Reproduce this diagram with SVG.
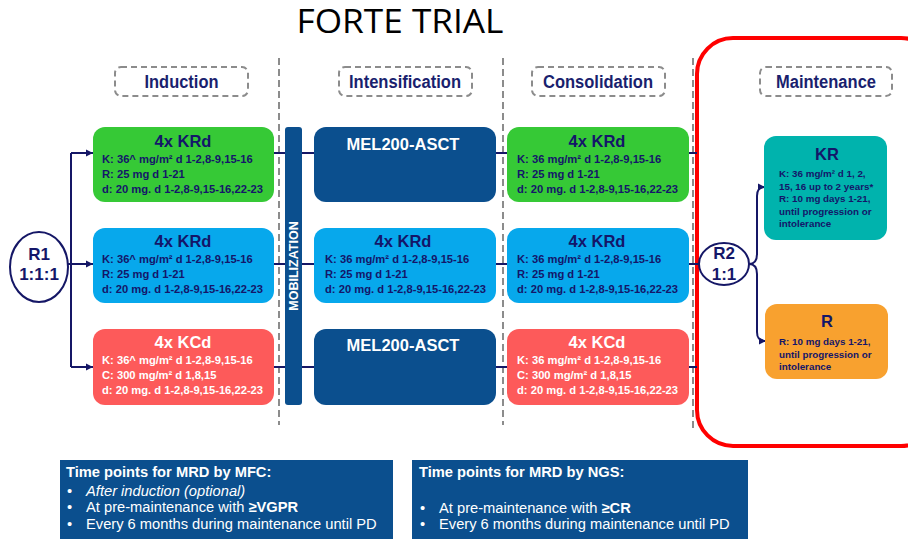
<svg xmlns="http://www.w3.org/2000/svg" width="908" height="539" viewBox="0 0 908 539">
<style>
text{font-family:"Liberation Sans",Arial,sans-serif}
.title{font-family:"Open Sans","Noto Sans",sans-serif;font-size:32px;fill:#000}
.phase{fill:none;stroke:#8c8c8c;stroke-width:2;stroke-dasharray:6 4}
.phaset{font-weight:bold;font-size:17.5px;fill:#1a1f6e;text-anchor:middle}
.div{stroke:#8c8c8c;stroke-width:2;stroke-dasharray:7 4;fill:none}
.con{stroke:#151766;stroke-width:2;fill:none}
.g{fill:#36c936}.b{fill:#07a8ec}.r{fill:#fd5a5a}.d{fill:#0b4f8e}.t{fill:#00b3ad}.o{fill:#f8a12f}
.h{font-weight:bold;font-size:16.5px;text-anchor:middle;fill:#141669}
.hw{font-weight:bold;font-size:16.5px;text-anchor:middle;fill:#fff}
.l{font-weight:bold;font-size:11.2px;fill:#141669}
.lw{font-weight:bold;font-size:11.2px;fill:#fff}
.m{font-weight:bold;font-size:9.8px;fill:#141669}
.rc{fill:#fff;stroke:#151766;stroke-width:2}
.rt{font-weight:bold;font-size:17px;text-anchor:middle;fill:#141669}
.bt{font-size:14.7px;fill:#fff}
</style>
<defs>
<marker id="arr" markerUnits="userSpaceOnUse" markerWidth="8" markerHeight="8" refX="7" refY="4" orient="auto">
<path d="M0,0.5 L7,4 L0,7.5 z" fill="#151766"/>
</marker>
</defs>

<text class="title" x="400" y="33" text-anchor="middle" textLength="207" lengthAdjust="spacingAndGlyphs">FORTE TRIAL</text>

<g id="phases">
<rect class="phase" x="115" y="67" width="133" height="29" rx="6"/>
<text class="phaset" x="181.5" y="88" textLength="74" lengthAdjust="spacingAndGlyphs">Induction</text>
<rect class="phase" x="339" y="67" width="133" height="29" rx="6"/>
<text class="phaset" x="405" y="88" textLength="112" lengthAdjust="spacingAndGlyphs">Intensification</text>
<rect class="phase" x="532" y="67" width="133" height="29" rx="6"/>
<text class="phaset" x="598" y="88" textLength="110" lengthAdjust="spacingAndGlyphs">Consolidation</text>
<rect class="phase" x="760" y="67" width="132" height="29" rx="6"/>
<text class="phaset" x="826" y="88" textLength="100" lengthAdjust="spacingAndGlyphs">Maintenance</text>
</g>

<g id="dividers">
<line class="div" x1="279" y1="58" x2="279" y2="425"/>
<line class="div" x1="503" y1="58" x2="503" y2="425"/>
<line class="div" x1="693" y1="58" x2="693" y2="428"/>
</g>

<rect id="maintenance-frame" x="697" y="38" width="240" height="408" rx="36" fill="none" stroke="#ff0000" stroke-width="4"/>

<g id="connectors">
<path class="con" d="M68,264 H71 M71,153 V367"/>
<path class="con" d="M71,153 H93" marker-end="url(#arr)"/>
<path class="con" d="M71,264 H93" marker-end="url(#arr)"/>
<path class="con" d="M71,367 H93" marker-end="url(#arr)"/>
<path class="con" d="M274,153 H697"/>
<path class="con" d="M274,264 H699"/>
<path class="con" d="M274,367 H697"/>
<path class="con" d="M749,264 C755,264 757,260 757,254 L757,196 C757,190 759,187 765,187" marker-end="url(#arr)"/>
<path class="con" d="M749,264 C755,264 757,268 757,274 L757,332 C757,338 759,341 766,341" marker-end="url(#arr)"/>
</g>

<g id="R1">
<ellipse class="rc" cx="39" cy="267" rx="29" ry="35"/>
<text class="rt" x="39" y="260">R1</text>
<text class="rt" x="39" y="280">1:1:1</text>
</g>

<g id="ind-krd-1">
<rect class="g" x="93" y="127" width="181" height="75" rx="12"/>
<text class="h" x="183" y="147">4x KRd</text>
<text class="l" x="102" y="163">K: 36^ mg/m² d 1-2,8-9,15-16</text>
<text class="l" x="102" y="178">R: 25 mg d 1-21</text>
<text class="l" x="102" y="193">d: 20 mg. d 1-2,8-9,15-16,22-23</text>
</g>
<g id="ind-krd-2">
<rect class="b" x="93" y="228" width="181" height="75" rx="12"/>
<text class="h" x="183" y="247">4x KRd</text>
<text class="l" x="102" y="263">K: 36^ mg/m² d 1-2,8-9,15-16</text>
<text class="l" x="102" y="278">R: 25 mg d 1-21</text>
<text class="l" x="102" y="293">d: 20 mg. d 1-2,8-9,15-16,22-23</text>
</g>
<g id="ind-kcd">
<rect class="r" x="93" y="329" width="181" height="76" rx="12"/>
<text class="hw" x="183" y="348">4x KCd</text>
<text class="lw" x="102" y="364">K: 36^ mg/m² d 1-2,8-9,15-16</text>
<text class="lw" x="102" y="379">C: 300 mg/m²  d 1,8,15</text>
<text class="lw" x="102" y="394">d: 20 mg. d 1-2,8-9,15-16,22-23</text>
</g>

<g id="mobilization">
<rect class="d" x="285" y="127" width="17" height="278" rx="3"/>
<text x="0" y="0" transform="translate(298,266) rotate(-90)" text-anchor="middle" font-weight="bold" font-size="12.5" fill="#fff">MOBILIZATION</text>
</g>

<g id="int-asct-1">
<rect class="d" x="314" y="127" width="182" height="75" rx="12"/>
<text class="hw" x="403" y="150">MEL200-ASCT</text>
</g>
<g id="int-krd">
<rect class="b" x="314" y="228" width="182" height="75" rx="12"/>
<text class="h" x="403" y="247">4x KRd</text>
<text class="l" x="325" y="263">K: 36 mg/m² d 1-2,8-9,15-16</text>
<text class="l" x="325" y="278">R: 25 mg d 1-21</text>
<text class="l" x="325" y="293">d: 20 mg. d 1-2,8-9,15-16,22-23</text>
</g>
<g id="int-asct-2">
<rect class="d" x="314" y="329" width="182" height="76" rx="12"/>
<text class="hw" x="403" y="351">MEL200-ASCT</text>
</g>

<g id="con-krd-1">
<rect class="g" x="507" y="127" width="182" height="75" rx="12"/>
<text class="h" x="597" y="147">4x KRd</text>
<text class="l" x="517" y="163">K: 36 mg/m² d 1-2,8-9,15-16</text>
<text class="l" x="517" y="178">R: 25 mg d 1-21</text>
<text class="l" x="517" y="193">d: 20 mg. d 1-2,8-9,15-16,22-23</text>
</g>
<g id="con-krd-2">
<rect class="b" x="507" y="228" width="182" height="75" rx="12"/>
<text class="h" x="597" y="247">4x KRd</text>
<text class="l" x="517" y="263">K: 36 mg/m² d 1-2,8-9,15-16</text>
<text class="l" x="517" y="278">R: 25 mg d 1-21</text>
<text class="l" x="517" y="293">d: 20 mg. d 1-2,8-9,15-16,22-23</text>
</g>
<g id="con-kcd">
<rect class="r" x="507" y="329" width="182" height="76" rx="12"/>
<text class="hw" x="597" y="348">4x KCd</text>
<text class="lw" x="517" y="364">K: 36 mg/m² d 1-2,8-9,15-16</text>
<text class="lw" x="517" y="379">C: 300 mg/m²  d 1,8,15</text>
<text class="lw" x="517" y="394">d: 20 mg. d 1-2,8-9,15-16,22-23</text>
</g>

<g id="R2">
<ellipse class="rc" cx="724" cy="264" rx="25" ry="21"/>
<text class="rt" x="724" y="259">R2</text>
<text class="rt" x="724" y="280">1:1</text>
</g>

<g id="maint-kr">
<rect class="t" x="764" y="136" width="123" height="104" rx="12"/>
<text class="h" x="827" y="160">KR</text>
<text class="m" x="779" y="177">K: 36 mg/m² d 1, 2,</text>
<text class="m" x="779" y="189.5">15, 16 up to 2 years*</text>
<text class="m" x="779" y="202">R: 10 mg days 1-21,</text>
<text class="m" x="779" y="214.5">until progression or</text>
<text class="m" x="779" y="227">intolerance</text>
</g>
<g id="maint-r">
<rect class="o" x="765" y="304" width="123" height="75" rx="12"/>
<text class="h" x="827" y="327">R</text>
<text class="m" x="779" y="345">R: 10 mg days 1-21,</text>
<text class="m" x="779" y="357.5">until progression or</text>
<text class="m" x="779" y="370">intolerance</text>
</g>

<g id="mrd-mfc">
<rect class="d" x="60" y="460" width="333" height="90"/>
<text class="bt" x="66" y="477" font-weight="bold">Time points for MRD by MFC:</text>
<text class="bt" x="67" y="496">•</text>
<text class="bt" x="86" y="496" font-style="italic">After induction (optional)</text>
<text class="bt" x="67" y="512">•</text>
<text class="bt" x="86" y="512">At pre-maintenance with <tspan font-weight="bold">≥VGPR</tspan></text>
<text class="bt" x="67" y="529">•</text>
<text class="bt" x="86" y="529">Every 6 months during maintenance until PD</text>
</g>
<g id="mrd-ngs">
<rect class="d" x="412" y="460" width="336" height="90"/>
<text class="bt" x="419" y="477" font-weight="bold">Time points for MRD by NGS:</text>
<text class="bt" x="420" y="513">•</text>
<text class="bt" x="439" y="513">At pre-maintenance with <tspan font-weight="bold">≥CR</tspan></text>
<text class="bt" x="420" y="529">•</text>
<text class="bt" x="439" y="529">Every 6 months during maintenance until PD</text>
</g>
</svg>
